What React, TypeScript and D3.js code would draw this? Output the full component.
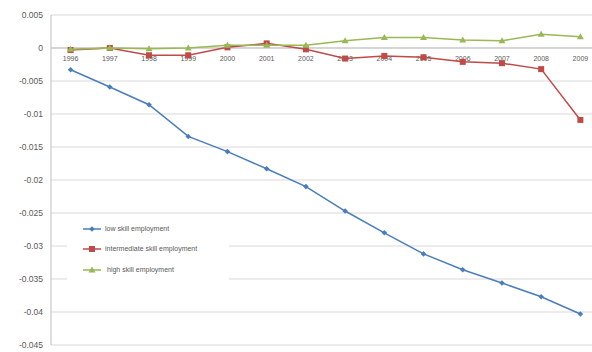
import React from "react";
import * as d3 from "d3";

const years = ["1996", "1997", "1998", "1999", "2000", "2001", "2002", "2003", "2004", "2005", "2006", "2007", "2008", "2009"];
const lowSkill = [-0.0033, -0.0059, -0.0086, -0.0134, -0.0157, -0.0183, -0.021, -0.0247, -0.028, -0.0312, -0.0336, -0.0356, -0.0377, -0.0403];
const intermediateSkill = [-0.0003, 0.0, -0.0011, -0.0011, 0.0001, 0.0007, -0.0002, -0.0016, -0.0012, -0.0014, -0.0021, -0.0023, -0.0032, -0.0109];
const highSkill = [-0.0002, 0.0, -0.0001, 0.0, 0.0004, 0.0004, 0.0004, 0.0011, 0.0016, 0.0016, 0.0012, 0.0011, 0.0021, 0.0017];
const yTicks = [0.005, 0, -0.005, -0.01, -0.015, -0.02, -0.025, -0.03, -0.035, -0.04, -0.045];
const yTickLabels = ["0.005", "0", "-0.005", "-0.01", "-0.015", "-0.02", "-0.025", "-0.03", "-0.035", "-0.04", "-0.045"];

const W = 592;
const H = 352;
const left = 51;
const top = 15;
const bottom = 345;
const bandRight = 600;

const series = [
  { name: "low skill employment", values: lowSkill, color: "#4a7ebb", marker: "diamond" },
  { name: "intermediate skill employment", values: intermediateSkill, color: "#be4b48", marker: "square" },
  { name: "high skill employment", values: highSkill, color: "#98b954", marker: "triangle" },
];

const font = "'Liberation Sans', Arial, sans-serif";

function Marker({ kind, x, y, color }: { kind: string; x: number; y: number; color: string }) {
  if (kind === "square") return <rect x={x - 3} y={y - 3} width={6} height={6} fill={color} />;
  if (kind === "triangle") return <path d={`M${x},${y - 3.5}L${x + 3.5},${y + 2.5}L${x - 3.5},${y + 2.5}Z`} fill={color} />;
  return <path d={`M${x},${y - 2.8}L${x + 2.8},${y}L${x},${y + 2.8}L${x - 2.8},${y}Z`} fill={color} />;
}

export default function App() {
  const x = d3.scaleBand<string>().domain(years).range([left, bandRight]);
  const y = d3.scaleLinear().domain([-0.045, 0.005]).range([bottom, top]);
  const cx = (yr: string) => (x(yr) as number) + x.bandwidth() / 2;
  const line = d3
    .line<number>()
    .x((_, i) => cx(years[i]))
    .y((v) => y(v));

  const legendX = 83;
  const legendY = [229, 249, 270];

  return (
    <svg width={W} height={H} style={{ position: "absolute", left: 0, top: 0, background: "#fff" }}>
      {yTicks.map((t, i) => (
        <g key={t}>
          <line x1={left} x2={W} y1={y(t)} y2={y(t)} stroke="#d9d9d9" strokeWidth={1} />
          <text x={43} y={y(t)} dy="0.35em" textAnchor="end" fontSize={8.5} fill="#595959" fontFamily={font}>
            {yTickLabels[i]}
          </text>
        </g>
      ))}
      <line x1={left} x2={left} y1={top} y2={bottom} stroke="#bfbfbf" />
      <line x1={left} x2={W} y1={y(0)} y2={y(0)} stroke="#bfbfbf" />
      {years.map((yr) => (
        <text key={yr} x={cx(yr)} y={y(0) + 13} textAnchor="middle" fontSize={7} fill="#595959" fontFamily={font}>
          {yr}
        </text>
      ))}
      <rect x={67} y={218} width={162} height={64} fill="#fff" />
      {series.map((s) => (
        <g key={s.name}>
          <path d={line(s.values) || ""} fill="none" stroke={s.color} strokeWidth={1.5} />
          {s.values.map((v, i) => (
            <Marker key={i} kind={s.marker} x={cx(years[i])} y={y(v)} color={s.color} />
          ))}
        </g>
      ))}
      {series.map((s, i) => (
        <g key={s.name}>
          <line x1={legendX} x2={legendX + 18} y1={legendY[i]} y2={legendY[i]} stroke={s.color} strokeWidth={1.5} />
          <Marker kind={s.marker} x={legendX + 9} y={legendY[i]} color={s.color} />
          <text x={legendX + 22 + (i === 2 ? 2 : 0)} y={legendY[i]} dy="0.35em" fontSize={7} fill="#595959" fontFamily={font}>
            {s.name}
          </text>
        </g>
      ))}
    </svg>
  );
}
